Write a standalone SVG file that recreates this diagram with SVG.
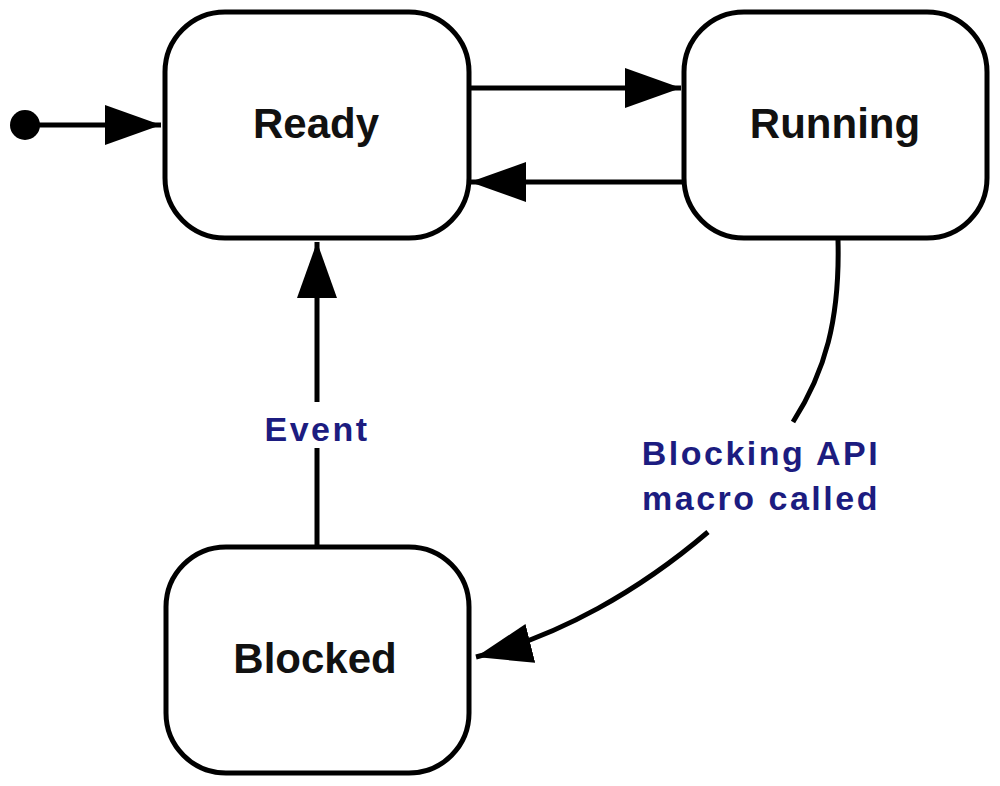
<svg xmlns="http://www.w3.org/2000/svg" width="1000" height="786" viewBox="0 0 1000 786">
<defs>
<style>
.box{fill:#fff;stroke:#000;stroke-width:5}
.name{font-family:"Liberation Sans",Arial,sans-serif;font-weight:bold;font-size:42px;fill:#111;text-anchor:middle}
.lbl{font-family:"Liberation Sans",Arial,sans-serif;font-weight:bold;font-size:34px;letter-spacing:2.5px;fill:#1c1c80;text-anchor:middle}
.edge{fill:none;stroke:#000;stroke-width:5}
</style>
<marker id="ah" viewBox="0 0 56 40" refX="56" refY="20" markerWidth="56" markerHeight="40" markerUnits="userSpaceOnUse" orient="auto">
<path d="M0,0 L56,20 L0,40 Z" fill="#000"/>
</marker>
</defs>
<rect width="1000" height="786" fill="#fff"/>
<g id="connectors">
<circle cx="25" cy="125" r="15" fill="#000"/>
<path class="edge" d="M25,125 H161" marker-end="url(#ah)"/>
<path class="edge" d="M468,88 H681" marker-end="url(#ah)"/>
<path class="edge" d="M684,182 H470" marker-end="url(#ah)"/>
<path class="edge" d="M317,547 V448 M317,402 V242" marker-end="url(#ah)"/>
<path class="edge" d="M838,240 C840,320 825,372 793,422 M708,532 C640,590 560,636 476,657" marker-end="url(#ah)"/>
</g>
<g id="ready">
<rect class="box" x="165" y="12" width="304" height="226" rx="60"/>
<text class="name" x="316" y="138">Ready</text>
</g>
<g id="running">
<rect class="box" x="684" y="12" width="303" height="226" rx="60"/>
<text class="name" x="835" y="138">Running</text>
</g>
<g id="blocked">
<rect class="box" x="166" y="547" width="303" height="226" rx="60"/>
<text class="name" x="315" y="673">Blocked</text>
</g>
<g id="labels">
<text class="lbl" x="317" y="441">Event</text>
<text class="lbl" x="761" y="465">Blocking API</text>
<text class="lbl" x="761" y="510">macro called</text>
</g>
</svg>
